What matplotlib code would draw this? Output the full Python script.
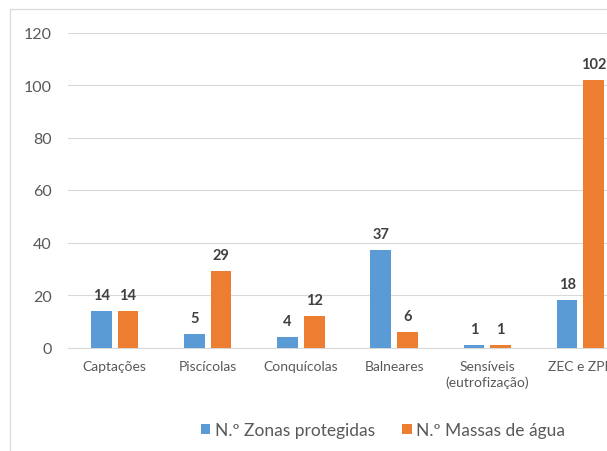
import matplotlib
matplotlib.use("Agg")
import matplotlib.pyplot as plt
from matplotlib.patches import Rectangle
import numpy as np

categories = ["Captações", "Piscícolas", "Conquícolas", "Balneares", "Sensíveis\n(eutrofização)", "ZEC e ZPE"]
zonas = [14, 5, 4, 37, 1, 18]
massas = [14, 29, 12, 6, 1, 102]
series_names = ["N.º Zonas protegidas", "N.º Massas de água"]
yticks = [0, 20, 40, 60, 80, 100, 120]

plt.rcParams['font.family'] = ['Lato', 'DejaVu Sans']

W, H = 607, 452
fig = plt.figure(figsize=(W/100, H/100), dpi=100)
fig.patch.set_facecolor('white')

left, right = 68, 627
top, base = 33.5, 348.5
ax = fig.add_axes([left/W, 1 - base/H, (right-left)/W, (base-top)/H])

x = np.arange(len(categories))
bw = 0.222
off = 0.143
b1 = ax.bar(x - off, zonas, bw, color='#5B9BD5', label=series_names[0], zorder=3)
b2 = ax.bar(x + off, massas, bw, color='#ED7D31', label=series_names[1], zorder=3)

for bars in (b1, b2):
    for r in bars:
        ax.annotate(f"{int(r.get_height())}", (r.get_x() + r.get_width()/2, r.get_height()),
                    xytext=(0, 6.5), textcoords='offset points', ha='center', va='bottom',
                    fontsize=10.5, fontweight='bold', color='#404040')

ax.set_xlim(-0.5, len(categories) - 0.5)
ax.set_ylim(0, 120)
ax.set_yticks(yticks)
ax.set_yticklabels([str(t) for t in yticks])
ax.set_xticks(x)
ax.set_xticklabels(categories, linespacing=1.35)
ax.tick_params(axis='y', length=0, pad=11.5, labelsize=11.5, labelcolor='#595959')
ax.tick_params(axis='x', length=0, pad=9, labelsize=10, labelcolor='#595959')
ax.grid(axis='y', color='#D9D9D9', linewidth=0.8, zorder=0)
for s in ['top', 'right', 'left']:
    ax.spines[s].set_visible(False)
ax.spines['bottom'].set_color('#D9D9D9')
ax.spines['bottom'].set_linewidth(0.8)
ax.set_facecolor('none')

leg = fig.legend(handles=[b1, b2], loc='center', bbox_to_anchor=(383/W, 1 - 431/H),
                 ncol=2, frameon=False, fontsize=12.5, handlelength=0.55, handleheight=0.55,
                 handletextpad=0.25, columnspacing=1.6, labelcolor='#595959')

fig.patches.append(Rectangle((10/W, -0.1), 1.2, (H - 10)/H + 0.1, transform=fig.transFigure,
                             fill=False, edgecolor='#D9D9D9', linewidth=0.9, zorder=0))

fig.savefig("out.png", dpi=100, facecolor='white')
